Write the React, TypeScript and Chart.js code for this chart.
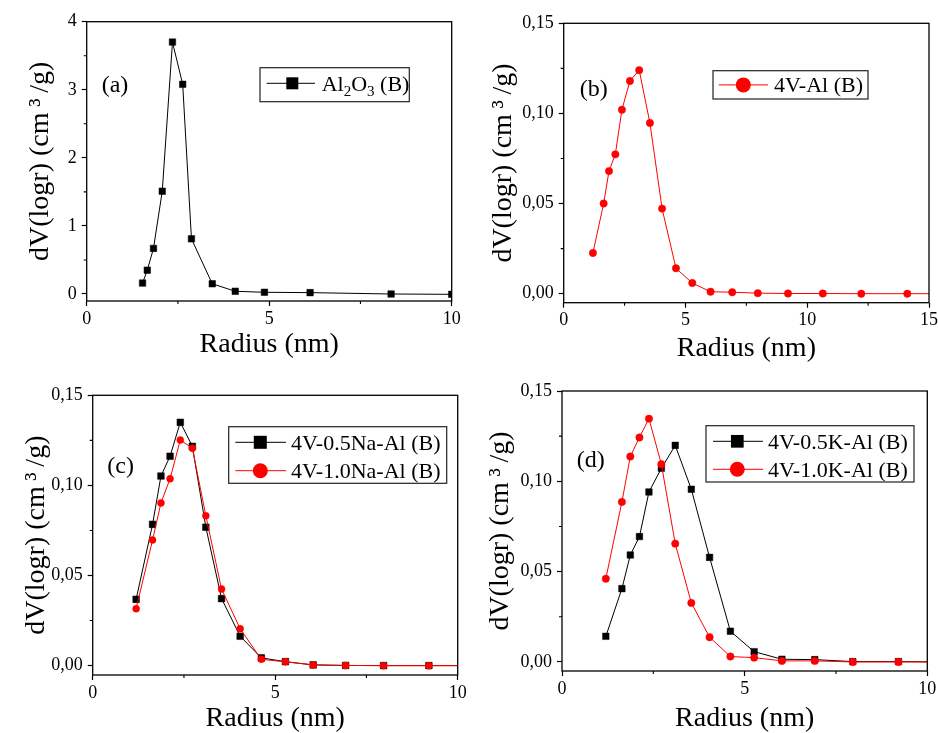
import React, { useEffect, useRef } from 'react';
import { Chart, registerables } from 'chart.js';

Chart.register(...registerables);

const FONT = '"Liberation Serif", "Times New Roman", serif';
const W = 938;
const H = 733;

// ---------- data ----------
// (a) Al2O3 (B)
const radiusA = [1.53, 1.66, 1.83, 2.07, 2.35, 2.63, 2.87, 3.44, 4.07, 4.87, 6.12, 8.34, 10.0];
const al2o3B = [0.16, 0.35, 0.67, 1.51, 3.7, 3.08, 0.81, 0.15, 0.04, 0.025, 0.02, 0.0, -0.005];

// (b) 4V-Al (B)
const radiusB = [1.2, 1.64, 1.86, 2.12, 2.39, 2.72, 3.1, 3.54, 4.04, 4.61, 5.28, 6.03, 6.92, 7.97, 9.21, 10.64, 12.22, 14.11, 16.3];
const v4AlB = [0.0226, 0.05, 0.068, 0.0773, 0.102, 0.118, 0.124, 0.0947, 0.0472, 0.0141, 0.0059, 0.0011, 0.0008, 0.0003, 0.0001, 0.0001, 0, 0, 0];

// (c) Na series
const radiusC = [1.19, 1.64, 1.87, 2.12, 2.4, 2.73, 3.1, 3.53, 4.04, 4.62, 5.28, 6.04, 6.93, 7.97, 9.21, 10.64];
const na05 = [0.0368, 0.0784, 0.1052, 0.1162, 0.135, 0.1217, 0.0768, 0.0372, 0.0163, 0.0043, 0.0022, 0.0004, 0.0001, 0, 0, 0];
const na10 = [0.0316, 0.0697, 0.0903, 0.1037, 0.1252, 0.1206, 0.0832, 0.0425, 0.0205, 0.0035, 0.0021, 0.0004, 0.0001, 0, 0, 0];

// (d) K series
const radiusD = [1.2, 1.64, 1.87, 2.12, 2.38, 2.72, 3.1, 3.54, 4.04, 4.61, 5.26, 6.02, 6.92, 7.96, 9.21, 10.64];
const k05 = [0.0142, 0.0406, 0.0592, 0.0694, 0.0941, 0.1072, 0.1199, 0.0956, 0.0579, 0.017, 0.0057, 0.0015, 0.0013, 0.0002, 0.0002, 0];
const k10 = [0.0461, 0.0886, 0.1137, 0.1243, 0.1347, 0.1095, 0.0655, 0.0327, 0.0137, 0.003, 0.0024, 0.0006, 0.0006, 0, 0, 0];

// ticks
const xTicks10 = [0, 5, 10];
const xLabels10 = ['0', '5', '10'];
const xMinor10 = [2.5, 7.5];
const xTicks15 = [0, 5, 10, 15];
const xLabels15 = ['0', '5', '10', '15'];
const xMinor15 = [2.5, 7.5, 12.5];
const yTicksA = [0, 1, 2, 3, 4];
const yLabelsA = ['0', '1', '2', '3', '4'];
const yMinorA = [0.5, 1.5, 2.5, 3.5];
const yTicksS = [0, 0.05, 0.1, 0.15];
const yLabelsS = ['0,00', '0,05', '0,10', '0,15'];
const yMinorS = [0.025, 0.075, 0.125];

const labelA = 'Al₂O₃ (B)';
const labelB = '4V-Al (B)';
const labelC1 = '4V-0.5Na-Al (B)';
const labelC2 = '4V-1.0Na-Al (B)';
const labelD1 = '4V-0.5K-Al (B)';
const labelD2 = '4V-1.0K-Al (B)';

const xTitle = 'Radius (nm)';
const yTitle = 'dV(logr) (cm\u2009³\u2009/g)';

const BLACK = '#000000';
const RED = '#ff0000';

type Row = { y: number; color: string; style: 'rect' | 'circle'; msize: number; label: string; segs?: { t: string; sub?: boolean }[] };

type PanelCfg = {
  series: { xs: number[]; ys: number[]; color: string; style: 'rect' | 'circle'; r: number; order: number }[];
  xMin: number; xMax: number; xTicks: number[]; xLabels: string[]; xMinor: number[];
  yMin: number; yMax: number; yTicks: number[]; yLabels: string[]; yMinor: number[];
  area: { l: number; r: number; t: number; b: number };
  yScaleLeft: number; xScaleBottom: number;
  legend: { x: number; y: number; w: number; h: number; lx0: number; lx1: number; mx: number; tx: number; rows: Row[] };
  tag: { text: string; x: number; y: number };
};

const panels: PanelCfg[] = [
  {
    series: [{ xs: radiusA, ys: al2o3B, color: BLACK, style: 'rect', r: 4.6, order: 0 }],
    xMin: 0, xMax: 10, xTicks: xTicks10, xLabels: xLabels10, xMinor: xMinor10,
    yMin: -0.103, yMax: 4, yTicks: yTicksA, yLabels: yLabelsA, yMinor: yMinorA,
    area: { l: 86.7, r: 451.7, t: 21.7, b: 301 },
    yScaleLeft: 26.5, xScaleBottom: 358.5,
    legend: {
      x: 260, y: 67.7, w: 149.3, h: 34, lx0: 266.7, lx1: 315, mx: 292.3, tx: 321.7,
      rows: [{ y: 83.3, color: BLACK, style: 'rect', msize: 12, label: labelA, segs: [{ t: 'Al' }, { t: '2', sub: true }, { t: 'O' }, { t: '3', sub: true }, { t: ' (B)' }] }],
    },
    tag: { text: '(a)', x: 101.7, y: 91.7 },
  },
  {
    series: [{ xs: radiusB, ys: v4AlB, color: RED, style: 'circle', r: 3.7, order: 0 }],
    xMin: 0, xMax: 15, xTicks: xTicks15, xLabels: xLabels15, xMinor: xMinor15,
    yMin: -0.005, yMax: 0.15, yTicks: yTicksS, yLabels: yLabelsS, yMinor: yMinorS,
    area: { l: 563.7, r: 929, t: 23.3, b: 302.7 },
    yScaleLeft: 489.5, xScaleBottom: 362.5,
    legend: {
      x: 713, y: 70.7, w: 155, h: 28.3, lx0: 718.7, lx1: 768, mx: 743.3, tx: 774,
      rows: [{ y: 84.9, color: RED, style: 'circle', msize: 15, label: labelB }],
    },
    tag: { text: '(b)', x: 579.7, y: 96 },
  },
  {
    series: [
      { xs: radiusC, ys: na05, color: BLACK, style: 'rect', r: 4.7, order: 1 },
      { xs: radiusC, ys: na10, color: RED, style: 'circle', r: 3.5, order: 0 },
    ],
    xMin: 0, xMax: 10, xTicks: xTicks10, xLabels: xLabels10, xMinor: xMinor10,
    yMin: -0.0052, yMax: 0.15, yTicks: yTicksS, yLabels: yLabelsS, yMinor: yMinorS,
    area: { l: 92.7, r: 457.7, t: 395.3, b: 675 },
    yScaleLeft: 22.2, xScaleBottom: 733,
    legend: {
      x: 228.7, y: 426.7, w: 218, h: 56.6, lx0: 235.3, lx1: 286, mx: 260.3, tx: 291,
      rows: [
        { y: 442.3, color: BLACK, style: 'rect', msize: 13, label: labelC1 },
        { y: 470.7, color: RED, style: 'circle', msize: 15, label: labelC2 },
      ],
    },
    tag: { text: '(c)', x: 107.3, y: 472.5 },
  },
  {
    series: [
      { xs: radiusD, ys: k05, color: BLACK, style: 'rect', r: 4.6, order: 1 },
      { xs: radiusD, ys: k10, color: RED, style: 'circle', r: 3.7, order: 0 },
    ],
    xMin: 0, xMax: 10, xTicks: xTicks10, xLabels: xLabels10, xMinor: xMinor10,
    yMin: -0.005, yMax: 0.15, yTicks: yTicksS, yLabels: yLabelsS, yMinor: yMinorS,
    area: { l: 562, r: 927.3, t: 391, b: 671 },
    yScaleLeft: 486.9, xScaleBottom: 733,
    legend: {
      x: 706, y: 425.7, w: 208, h: 56.3, lx0: 713, lx1: 763, mx: 737.3, tx: 768,
      rows: [
        { y: 441.3, color: BLACK, style: 'rect', msize: 12.7, label: labelD1 },
        { y: 469.3, color: RED, style: 'circle', msize: 15, label: labelD2 },
      ],
    },
    tag: { text: '(d)', x: 576.7, y: 466.7 },
  },
];

function drawMarker(ctx: CanvasRenderingContext2D, style: string, x: number, y: number, size: number, color: string) {
  ctx.fillStyle = color;
  if (style === 'rect') {
    ctx.fillRect(x - size / 2, y - size / 2, size, size);
  } else {
    ctx.beginPath();
    ctx.arc(x, y, size / 2, 0, Math.PI * 2);
    ctx.fill();
  }
}

function makePlugin(p: PanelCfg) {
  return {
    id: 'frameLegend',
    afterDraw(chart: any) {
      const ctx: CanvasRenderingContext2D = chart.ctx;
      const { left, right, top, bottom } = chart.chartArea;
      const xs = chart.scales.x;
      const ys = chart.scales.y;
      ctx.save();
      // frame
      ctx.strokeStyle = '#000';
      ctx.lineWidth = 1.3;
      ctx.strokeRect(left, top, right - left, bottom - top);
      // minor ticks
      ctx.lineWidth = 1.1;
      ctx.beginPath();
      p.xMinor.forEach((v) => {
        const px = xs.getPixelForValue(v);
        ctx.moveTo(px, bottom);
        ctx.lineTo(px, bottom + 3);
      });
      p.yMinor.forEach((v) => {
        const py = ys.getPixelForValue(v);
        ctx.moveTo(left, py);
        ctx.lineTo(left - 3, py);
      });
      ctx.stroke();

      // legend
      const lg = p.legend;
      ctx.fillStyle = '#fff';
      ctx.fillRect(lg.x, lg.y, lg.w, lg.h);
      ctx.strokeStyle = '#222';
      ctx.lineWidth = 1.2;
      ctx.strokeRect(lg.x, lg.y, lg.w, lg.h);
      lg.rows.forEach((row) => {
        ctx.strokeStyle = row.color;
        ctx.lineWidth = 1;
        ctx.beginPath();
        ctx.moveTo(lg.lx0, row.y);
        ctx.lineTo(lg.lx1, row.y);
        ctx.stroke();
        drawMarker(ctx, row.style, lg.mx, row.y, row.msize, row.color);
        ctx.fillStyle = '#000';
        ctx.textBaseline = 'alphabetic';
        ctx.textAlign = 'left';
        const base = row.y + 7.4;
        if (row.segs) {
          let x = lg.tx;
          row.segs.forEach((s) => {
            ctx.font = `${s.sub ? 15 : 22}px ${FONT}`;
            ctx.fillText(s.t, x, s.sub ? base + 5 : base);
            x += ctx.measureText(s.t).width;
          });
        } else {
          ctx.font = `22px ${FONT}`;
          ctx.fillText(row.label, lg.tx, base);
        }
      });

      // panel tag
      ctx.fillStyle = '#000';
      ctx.font = `24px ${FONT}`;
      ctx.textBaseline = 'alphabetic';
      ctx.textAlign = 'left';
      ctx.fillText(p.tag.text, p.tag.x, p.tag.y);
      ctx.restore();
    },
  };
}

function Panel({ p }: { p: PanelCfg }) {
  const ref = useRef<HTMLCanvasElement>(null);
  useEffect(() => {
    if (!ref.current) return;
    const a = p.area;
    const yWidth = a.l - p.yScaleLeft;
    const xHeight = p.xScaleBottom - a.b;
    const chart = new Chart(ref.current, {
      type: 'line',
      data: {
        datasets: p.series.map((s) => ({
          data: s.xs.map((x, i) => ({ x, y: s.ys[i] })),
          borderColor: s.color,
          backgroundColor: s.color,
          borderWidth: 1,
          pointStyle: s.style,
          pointRadius: s.r,
          pointBorderWidth: 0.5,
          pointBackgroundColor: s.color,
          pointBorderColor: s.color,
          tension: 0,
          fill: false,
          clip: 0,
          order: s.order,
        })),
      },
      options: {
        responsive: false,
        animation: false,
        devicePixelRatio: 1,
        events: [],
        layout: {
          padding: {
            left: p.yScaleLeft,
            top: a.t,
            right: W - a.r,
            bottom: H - p.xScaleBottom,
          },
        },
        plugins: { legend: { display: false }, tooltip: { enabled: false } },
        scales: {
          x: {
            type: 'linear',
            min: p.xMin,
            max: p.xMax,
            afterBuildTicks: (s: any) => {
              s.ticks = p.xTicks.map((v) => ({ value: v }));
            },
            afterFit: (s: any) => {
              s.height = xHeight;
              s.paddingLeft = 0;
              s.paddingRight = 0;
              s.paddingTop = 0;
              s.paddingBottom = 0;
            },
            ticks: {
              autoSkip: false,
              maxRotation: 0,
              minRotation: 0,
              padding: 2,
              color: '#000',
              font: { family: FONT, size: 18 },
              callback: (_v: any, i: number) => p.xLabels[i],
            },
            grid: { display: true, drawOnChartArea: false, drawTicks: true, tickLength: 5, tickColor: '#000', tickWidth: 1.2 },
            border: { display: false },
            title: { display: true, text: xTitle, color: '#000', font: { family: FONT, size: 28, lineHeight: 1 }, padding: 0 },
          },
          y: {
            type: 'linear',
            min: p.yMin,
            max: p.yMax,
            afterBuildTicks: (s: any) => {
              s.ticks = p.yTicks.map((v) => ({ value: v }));
            },
            afterFit: (s: any) => {
              s.width = yWidth;
              s.paddingLeft = 0;
              s.paddingRight = 0;
              s.paddingTop = 0;
              s.paddingBottom = 0;
            },
            ticks: {
              autoSkip: false,
              padding: 5,
              color: '#000',
              font: { family: FONT, size: 18 },
              callback: (_v: any, i: number) => p.yLabels[i],
            },
            grid: { display: true, drawOnChartArea: false, drawTicks: true, tickLength: 5, tickColor: '#000', tickWidth: 1.2 },
            border: { display: false },
            title: { display: true, text: yTitle, color: '#000', font: { family: FONT, size: 28, lineHeight: 1 }, padding: 0 },
          },
        },
      },
      plugins: [makePlugin(p)],
    } as any);
    return () => chart.destroy();
  }, [p]);
  return (
    <canvas
      ref={ref}
      width={W}
      height={H}
      style={{ position: 'absolute', left: 0, top: 0, width: W, height: H, pointerEvents: 'none' }}
    />
  );
}

export default function App() {
  return (
    <div style={{ position: 'absolute', left: 0, top: 0, width: W, height: H, background: '#fff', overflow: 'hidden' }}>
      {panels.map((p, i) => (
        <Panel key={i} p={p} />
      ))}
    </div>
  );
}
